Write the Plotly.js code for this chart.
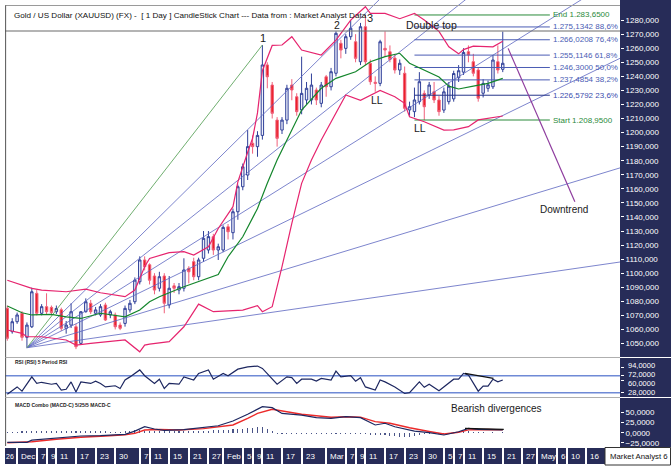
<!DOCTYPE html>
<html><head><meta charset="utf-8">
<script src="https://cdn.plot.ly/plotly-3.0.1.min.js"></script>
<style>html,body{margin:0;padding:0;background:#fff}#c{width:671px;height:470px}</style>
</head><body><div id="c"></div>
<script>
// ---------- DATA ----------
const open = [1075,1058.4,1065.5,1071.5,1054.4,1061.9,1085.7,1071.5,1076.2,1075.7,1072.6,1074,1060.8,1063.1,1061.9,1050.1,1072.6,1078.6,1071.5,1070.3,1077.4,1070.3,1070.3,1063.1,1064.3,1073.9,1079.7,1093.9,1109.4,1106,1098,1089.3,1098,1077.4,1091,1088,1089.3,1103.5,1108.2,1097.5,1110.6,1116.5,1126,1116.5,1116.5,1133,1128.8,1143.7,1161.5,1169.8,1192.4,1190,1198,1248.1,1233.8,1208.9,1201.8,1208.9,1233.8,1225.5,1216.1,1223.2,1223.2,1230.3,1220.8,1239.7,1232.6,1242.2,1263.5,1259.9,1268.2,1264.6,1250.4,1275.3,1249.3,1235.8,1235,1259.9,1257.5,1253,1244.5,1242.2,1216.1,1214.9,1222,1227.9,1226.7,1229.1,1223.2,1216,1222,1224,1239,1243,1257.5,1250.4,1244.5,1228,1231.5,1232.6,1250.4,1245];
const high = [1077,1068,1072,1073,1065,1089.7,1088,1078,1085.7,1077,1077,1075.5,1066,1078.6,1064,1073,1082.1,1081,1076,1078,1079,1074,1072,1065,1077,1081,1097,1112,1112,1107,1100,1101,1100,1098,1093,1093,1110.6,1105,1111,1111,1130,1130,1128,1121,1134,1135,1146,1163,1178,1201.8,1198,1201,1262.3,1250,1236,1211,1211,1234,1238,1228,1254,1236,1242,1232,1236,1241,1246,1272,1266,1270,1280,1270,1278,1283.65,1252,1240,1266,1272,1262,1256,1252,1247,1222,1232,1243,1230,1236,1236,1226,1232,1236,1244,1248,1260,1262,1256,1246,1238,1237,1255,1262,1271.8];
const low = [1052,1057,1064,1052,1047,1061,1070,1070,1070.3,1070,1071,1059,1057,1061,1046,1049,1072,1071,1070,1069,1066,1068,1060,1059.5,1062,1072,1078,1092,1102,1092,1085,1087,1071.5,1075,1086,1085,1087,1092.8,1095,1095,1108,1114,1113,1109.4,1115,1124,1124,1138,1159,1166.3,1185,1182.8,1195,1231.5,1210,1190,1199,1206,1223,1212,1213,1220,1220,1219.6,1218,1225.5,1230,1240,1252.8,1256,1266,1250,1248,1248,1234,1229,1233,1254,1250,1242,1241,1215,1212,1211,1220,1208.95,1224,1221,1212,1214,1220,1222,1236,1241,1250,1240,1222,1225,1229,1231,1242,1243];
const close = [1053.7,1065.5,1070.3,1054.4,1063.1,1086.8,1071.5,1076.2,1072.6,1072,1074.9,1060.8,1063.1,1072.6,1047.7,1072.6,1079.7,1072.6,1073.9,1076.2,1066.7,1072.6,1061.9,1060.8,1075,1078.6,1095.1,1109.4,1104.6,1095,1088,1097.5,1078.6,1089.3,1089.3,1090.4,1102.3,1101,1097.5,1109.4,1124.8,1126,1116.5,1118.8,1132.6,1129.5,1143.7,1161.5,1175.7,1190,1190,1198,1248.1,1239.7,1213.7,1195.9,1208.9,1231.5,1230.3,1214.9,1227.9,1231.5,1233.8,1223.2,1233.8,1232.6,1243.3,1270.6,1258.7,1268.2,1274.2,1252.8,1275.3,1250.4,1236.2,1235,1264.6,1258.7,1252,1244.5,1249.3,1217.3,1218.4,1223.2,1236.2,1218.4,1233.8,1223.2,1214.9,1229,1233,1242,1244,1257,1255.2,1242.2,1224.4,1235,1234,1251.6,1244.5,1249.3];

// Bollinger bands & moving average (read at sampled bars)
const bbUpIdx = [0,3,4,5,7,12,16,19,24,26,28,29,33,36,38,41,43,46,47,48,49,50,51,52,54,56,58,60,64,67,70,73,74,77,80,83,85,88,90,92,93,95,99,101];
const bbUpVal = [1095,1091.6,1090,1089.2,1088,1086.8,1088.6,1086.1,1083.3,1088,1104.6,1110.5,1114.6,1115.3,1112.9,1118.8,1131.8,1147.3,1165,1176,1186,1196,1214,1244,1262,1262.3,1268.2,1258.7,1255.2,1265.8,1280,1289.5,1284.8,1284.8,1281,1284.8,1280,1272,1261,1256,1259,1261.5,1261,1265];
const bbLoIdx = [0,3,4,7,12,14,17,21,24,27,28,29,33,36,39,42,45,48,51,52,54,56,58,60,62,63,64,69,72,76,79,81,82,85,88,89,91,94,96,99,101];
const bbLoVal = [1059.6,1057.2,1054.8,1054.8,1052.5,1048.9,1050.1,1051.3,1052.5,1044.1,1048.9,1049.6,1051.3,1061.9,1078,1072.6,1073.3,1073.8,1076.9,1072.6,1076.2,1104.6,1135.5,1163.9,1180.5,1187.6,1194.7,1226.7,1223,1230,1225.5,1220.8,1211.3,1207.7,1203,1201.8,1202,1204.2,1209,1210.9,1211.8];
const maIdx = [0,3,5,9,12,15,19,22,24,27,29,31,36,43,45,48,51,53,55,57,60,64,67,71,74,77,80,82,85,88,90,92,95,98,101];
const maVal = [1076.7,1071.9,1070.3,1070.7,1069,1067.8,1071.5,1070.3,1069,1073.8,1079.7,1083.3,1090.4,1099,1111.7,1125.9,1146,1164,1180.5,1194.7,1216,1231.5,1238.6,1243.3,1250.4,1254,1256.4,1249.3,1244.5,1239.5,1233,1231,1233,1235,1238.6];

// Fan lines from the December low
const fanOriginIdx = 4;
const fanEndIdx = 125;
const fanEndPrice = [1464, 1382, 1312, 1253, 1175, 1108];
const greenFanEndIdx = 52;

// Fibonacci levels
const fibLevels = [1283.65, 1275.1342, 1266.0208, 1255.1146, 1246.3, 1237.4854, 1226.5792, 1208.95];
const fibLabels = ['End 1.283,6500','1.275,1342 88,6%','1.266,0208 76,4%','1.255,1146 61,8%','1.246,3000 50,0%','1.237,4854 38,2%','1.226,5792 23,6%','Start 1.208,9500'];
const fibColors = ['#2a8a3a','#4a5cb4','#4a5cb4','#4a5cb4','#4a5cb4','#4a5cb4','#26358a','#2a8a3a'];
const fibFromIdx = 83, fibToIdx = 110.6;

// Downtrend arrow line
const downIdx = [102.1, 115.7];
const downPrice = [1259.9, 1150.8];

// RSI
const rsiIdx = [0,2,3,5,6,7,9,10,11,12,13,14,15,17,18,19,20,22,23,24,25,27,28,30,31,32,33,35,36,38,39,41,42,44,45,47,49,51,52,54,55,57,58,59,60,62,63,64,66,67,68,70,71,72,73,75,76,77,79,81,82,84,85,86,88,91,92,93,94,96,97,98,99,100,101];
const rsiVal = [24,43,32,69,52,55,50,52,35,37,56,30,56,52,58,52,43,46,39,61,69,87,72,52,63,39,52,50,69,61,78,87,63,78,72,89,95,97,91,63,50,69,67,52,63,63,58,65,61,84,69,72,58,67,43,35,61,56,43,26,28,56,42,50,33,63,63,78,74,32,45,45,63,56,61];
const rsiLevels = [72, 28];
const rsiDivIdx = [93.3, 99.1], rsiDivVal = [78.2, 65.3];

// MACD
const macdIdx = [0,4,5,9,12,15,19,22,24,26,28,30,32,36,39,43,46,49,52,54,56,60,63,66,69,72,75,77,79,83,86,89,92,94,96,101];
const macdVal = [-23.5,-23.5,-18,-13.8,-10.6,-8,-7.3,-5.7,-4,4,14.7,9,5.8,7.3,12,17,28.5,44.9,63.4,61,47,43,36.6,35,39,36.6,18.8,23,14.6,4,0,-5.6,2.4,10.7,8.2,6.6];
const sigIdx = [0,5,10,15,20,24,26,28,31,35,40,46,49,51,54,60,66,69,72,75,78,82,86,89,92,94,98,101];
const sigVal = [-24.3,-22,-16,-11,-8,-5,-1.5,6.6,8,6.5,10,18.8,35,47,57,44.9,37.6,39,38,26.9,23,12,3,-3,1,7,8,7];
const histVal = [1,2,2,3,3, 4,4,4,4,3,3,3,3, 3,3,3,3,3,3,3,3,2,2,2,3, 4,6,6,5,4,3, 3,3,3,3,3,4,4,4,5,5, 5,6,6,6,7,8,9,10,11,12,13,14, 8,3,-3,-4,-4,-3,-3,-3, -3,-3,-3,-3,-3,-2,-2,-2,-2,-2,-3,-3, -4,-5,-6,-5,-5,-7,-8,-10,-11,-10,-8,-6,-4, -3,-3,-3,-2,-1,1,2,3,3,2,1,1,0,1,0,1];
const macdDivIdx = [93.3, 101.2], macdDivVal = [10.7, 8.2];

// Axis ticks
const xTickIdx = [2,6,8,10,14,18,22,27,29,33,37,41,44,48,50,52,56,60,65,69,71,73,77,81,85,89,91,93,97,101,105,108,112,114,118];
const xTickText = ['Dec','7','9','11','17','23','30','7','11','15','21','27','Feb','5','9','11','17','23','Mar','7','9','11','17','23','30','5','7','11','15','21','27','May','6','10','16'];
const priceTicks = [1050,1060,1070,1080,1090,1100,1110,1120,1130,1140,1150,1160,1170,1180,1190,1200,1210,1220,1230,1240,1250,1260,1270,1280];
const rsiTicks = [94,72,60,28];
const rsiTickText = ['94,0000','72,0000','60,0000','28,0000'];
const rsiLabelNudge = [2, 1, -3, 0];
const macdTicks = [50,25,0,-25];

// ---------- CHART ----------
const FONT = 'Arial, "Liberation Sans", sans-serif';
const NAVY = '#272c58';
const idx = open.map((_, i) => i);
const X0 = -0.47, X1 = 124.9;

const traces = [];
fanEndPrice.forEach(p => traces.push({type:'scatter', mode:'lines', x:[fanOriginIdx, fanEndIdx], y:[low[fanOriginIdx], p],
  line:{color:'rgba(92,102,192,0.8)', width:1}, hoverinfo:'skip'}));
traces.push({type:'scatter', mode:'lines', x:[fanOriginIdx, greenFanEndIdx], y:[low[fanOriginIdx], high[greenFanEndIdx]],
  line:{color:'#6fae6f', width:1}, hoverinfo:'skip'});
fibLevels.forEach((lv, i) => traces.push({type:'scatter', mode:'lines', x:[fibFromIdx, fibToIdx], y:[lv, lv],
  line:{color: fibColors[i], width: 1}, hoverinfo:'skip'}));
traces.push({type:'candlestick', x: idx, open, high, low, close,
  increasing:{line:{color:'#2f3f98', width:1}, fillcolor:'#eef0fa'},
  decreasing:{line:{color:'#f0607a', width:1}, fillcolor:'#ea2128'},
  whiskerwidth:0, hoverinfo:'skip'});
traces.push({type:'scatter', mode:'lines', x:bbUpIdx, y:bbUpVal, line:{color:'#e6246e', width:1.2}, hoverinfo:'skip'});
traces.push({type:'scatter', mode:'lines', x:bbLoIdx, y:bbLoVal, line:{color:'#e6246e', width:1.2}, hoverinfo:'skip'});
traces.push({type:'scatter', mode:'lines', x:maIdx, y:maVal, line:{color:'#14862c', width:1.2}, hoverinfo:'skip'});
traces.push({type:'scatter', mode:'lines', x:downIdx, y:downPrice, line:{color:'#8e3c9e', width:1.2}, hoverinfo:'skip'});
rsiLevels.forEach(l => traces.push({type:'scatter', mode:'lines', x:[X0, X1], y:[l, l], yaxis:'y2', line:{color:'#6f8ad6', width:1.5}, hoverinfo:'skip'}));
traces.push({type:'scatter', mode:'lines', x:rsiIdx, y:rsiVal, yaxis:'y2', line:{color:'#1d2760', width:1.2}, hoverinfo:'skip'});
traces.push({type:'scatter', mode:'lines', x:rsiDivIdx, y:rsiDivVal, yaxis:'y2', line:{color:'#111', width:1.2}, hoverinfo:'skip'});
traces.push({type:'bar', x: idx, y: histVal, yaxis:'y3', width:0.22, marker:{color:'#4a5488'}, hoverinfo:'skip'});
traces.push({type:'scatter', mode:'lines', x:sigIdx, y:sigVal, yaxis:'y3', line:{color:'#ec2a2a', width:1.4}, hoverinfo:'skip'});
traces.push({type:'scatter', mode:'lines', x:macdIdx, y:macdVal, yaxis:'y3', line:{color:'#1d2760', width:1.2}, hoverinfo:'skip'});
traces.push({type:'scatter', mode:'lines', x:macdDivIdx, y:macdDivVal, yaxis:'y3', line:{color:'#111', width:1.2}, hoverinfo:'skip'});

const PH = 446;
const py = px => (PH - px) / PH;
const pxX = px => (px - 5) / 615;

const yAxisBase = {side:'right', anchor:'x', showgrid:false, zeroline:false, showline:false,
  ticks:'outside', ticklen:3, tickcolor:'#ffffff', tickfont:{family:FONT, size:8, color:'#ffffff'}, fixedrange:true};

const shapes = [
  {type:'rect', xref:'paper', yref:'paper', x0:1, x1:pxX(671), y0:py(447.5), y1:1, fillcolor:NAVY, line:{width:0}, layer:'below'},
  {type:'rect', xref:'paper', yref:'paper', x0:0, x1:pxX(605), y0:py(464), y1:py(448), fillcolor:NAVY, line:{width:0}, layer:'below'},
  {type:'rect', xref:'paper', yref:'paper', x0:pxX(605), x1:pxX(670.5), y0:py(465), y1:py(447.5), fillcolor:'#ffffff', line:{color:'#333', width:1}},
  {type:'line', xref:'paper', yref:'paper', x0:0, x1:1, y0:py(31), y1:py(31), line:{color:'#6a6a6a', width:1.2}},
  {type:'line', xref:'paper', yref:'paper', x0:0, x1:1, y0:py(5.5), y1:py(5.5), line:{color:'#9a9a9a', width:1}},
  {type:'line', xref:'paper', yref:'paper', x0:0.001, x1:0.001, y0:0, y1:py(5.5), line:{color:'#555', width:1}},
  {type:'line', xref:'paper', yref:'paper', x0:0, x1:1, y0:py(357.5), y1:py(357.5), line:{color:'#9a9a9a', width:0.8}},
  {type:'line', xref:'paper', yref:'paper', x0:0, x1:1, y0:py(397.5), y1:py(397.5), line:{color:'#9a9a9a', width:0.8}},
  {type:'line', xref:'paper', yref:'paper', x0:1, x1:pxX(671), y0:py(357.5), y1:py(357.5), line:{color:'#ffffff', width:1}},
  {type:'line', xref:'paper', yref:'paper', x0:1, x1:pxX(671), y0:py(397.5), y1:py(397.5), line:{color:'#ffffff', width:1}}
];

const ann = [];
ann.push({xref:'paper', yref:'paper', x:pxX(12), y:py(15.5), xanchor:'left', yanchor:'middle', showarrow:false,
  text:'Gold / US Dollar (XAUUSD) (FX) -  [ 1 Day ] CandleStick Chart --- Data from : Market Analyst Data', font:{family:FONT, size:8.1, color:'#111'}});
xTickIdx.forEach((v, i) => ann.push({xref:'x', yref:'paper', x:v, y:py(456), xanchor:'left', yanchor:'middle', xshift:2, showarrow:false,
  text:xTickText[i], font:{family:FONT, size:8, color:'#ffffff'}}));
ann.push({xref:'paper', yref:'paper', x:pxX(4), y:py(456), xanchor:'left', yanchor:'middle', showarrow:false, text:'26', font:{family:FONT, size:7, color:'#ffffff'}});
ann.push({xref:'paper', yref:'paper', x:pxX(608), y:py(456), xanchor:'left', yanchor:'middle', showarrow:false, text:'Market Analyst 6', font:{family:FONT, size:7.8, color:'#111'}});
rsiTicks.forEach((v, i) => ann.push({xref:'paper', yref:'y2', x:pxX(626), y:v, xanchor:'left', yanchor:'middle', yshift:rsiLabelNudge[i], showarrow:false,
  text:rsiTickText[i], font:{family:FONT, size:7.5, color:'#ffffff'}}));
fibLevels.forEach((lv, i) => ann.push({xref:'x', yref:'y', x:fibToIdx, y:lv, xanchor:'left', yanchor:'middle', xshift:1, showarrow:false,
  text:fibLabels[i], font:{family:FONT, size:8, color:fibColors[i] === '#26358a' ? '#3a4cae' : fibColors[i]}}));
const lab = (t, x, y, size, yref) => ann.push({xref:'x', yref:yref || 'y', x, y, showarrow:false, text:t, xanchor:'center', yanchor:'middle', font:{family:FONT, size, color:'#1a1a1a'}});
lab('1', 52.2, 1267.1, 11);
lab('2', 67.2, 1276.8, 10.5);
lab('3', 73.9, 1281.3, 11);
lab('LL', 75.3, 1223.2, 10.5);
lab('LL', 84.1, 1203, 10.5);
lab('Double top', 86.5, 1276.5, 10.5);
lab('Downtrend', 113.4, 1145.6, 10);
lab('Bearish divergences', 99.8, 57.8, 10, 'y3');
ann.push({xref:'paper', yref:'paper', x:pxX(13), y:py(361.8), xanchor:'left', yanchor:'middle', showarrow:false, text:'<b>RSI (RSI) 5 Period RSI</b>', font:{family:FONT, size:5, color:'#222'}});
ann.push({xref:'paper', yref:'paper', x:pxX(13), y:py(405), xanchor:'left', yanchor:'middle', showarrow:false, text:'<b>MACD Combo (MACD-C) 5/25/5 MACD-C</b>', font:{family:FONT, size:5, color:'#222'}});

const layout = {
  width:671, height:470, margin:{l:5, r:51, t:0, b:24, pad:0},
  paper_bgcolor:'#ffffff', plot_bgcolor:'rgba(0,0,0,0)', showlegend:false, separators:',.',
  font:{family:FONT, size:8, color:'#000'}, bargap:0,
  xaxis:{range:[X0, X1], anchor:'y3', domain:[0,1], showgrid:false, zeroline:false, showline:false,
    tickmode:'array', tickvals:xTickIdx, showticklabels:false, ticks:'outside', ticklen:18, tickwidth:2, tickcolor:'#ffffff',
    rangeslider:{visible:false}, fixedrange:true},
  yaxis:Object.assign({}, yAxisBase, {domain:[py(357), 1], range:[1040.4, 1294.3], tickmode:'array', tickvals:priceTicks, tickformat:'.3f'}),
  yaxis2:Object.assign({}, yAxisBase, {domain:[py(397), py(358)], range:[16.9, 117.9], tickmode:'array', tickvals:rsiTicks, showticklabels:false}),
  yaxis3:Object.assign({}, yAxisBase, {domain:[0, py(398)], range:[-32.4, 84.6], tickmode:'array', tickvals:macdTicks, tickformat:'.4f'}),
  shapes, annotations: ann
};

Plotly.newPlot('c', traces, layout, {staticPlot:true, displayModeBar:false});
</script></body></html>
